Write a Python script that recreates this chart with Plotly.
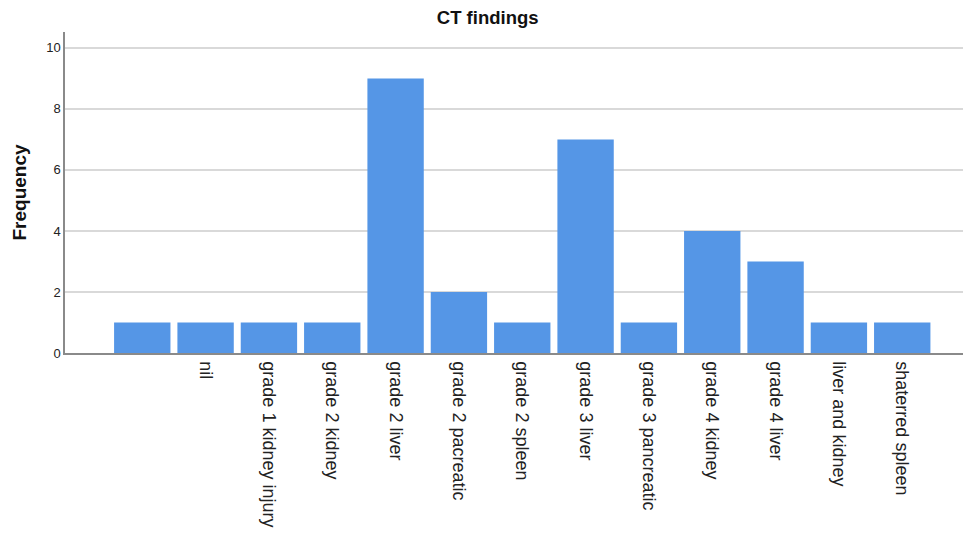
import plotly.graph_objects as go

categories = ["", "nil", "grade 1 kidney injury", "grade 2 kidney", "grade 2 liver",
              "grade 2 pacreatic", "grade 2 spleen", "grade 3 liver", "grade 3 pancreatic",
              "grade 4 kidney", "grade 4 liver", "liver and kidney", "shaterred spleen"]
frequency = [1, 1, 1, 1, 9, 2, 1, 7, 1, 4, 3, 1, 1]
y_ticks = [0, 2, 4, 6, 8, 10]

xs = list(range(len(categories)))

fig = go.Figure(go.Bar(
    x=xs, y=frequency, width=0.89,
    marker=dict(color="#5596e6", line=dict(width=0)),
))

fig.update_layout(
    width=971, height=534,
    margin=dict(l=57, r=9, t=24, b=189),
    plot_bgcolor="white", paper_bgcolor="white",
    font=dict(family="Liberation Sans, Arial, sans-serif", color="#222"),
    title=dict(text="<b>CT findings</b>", x=0.494, xref="container", xanchor="center",
               y=0.983, yref="container", yanchor="middle", automargin=False,
               font=dict(size=18.5, color="#111")),
    showlegend=False,
)
fig.update_xaxes(
    tickmode="array", tickvals=xs, ticktext=categories,
    tickangle=90, range=[-1.22, 13.07], automargin=False,
    showgrid=False, zeroline=False,
    showline=True, linecolor="#8a8a8a", linewidth=1.5,
    ticks="outside", ticklen=3, tickcolor="rgba(0,0,0,0)",
    tickfont=dict(size=18, color="#222"),
)
fig.update_yaxes(
    range=[0, 10.52], tickvals=y_ticks, automargin=False,
    showgrid=True, gridcolor="#d9d9d9", gridwidth=1.5,
    zeroline=False, showline=True, linecolor="#8a8a8a", linewidth=1.5,
    ticks="", ticklen=0, tickfont=dict(size=13, color="#222"),
    title=dict(text="<b>Frequency</b>", font=dict(size=19, color="#111"), standoff=15),
)

fig.write_html("out.html")
